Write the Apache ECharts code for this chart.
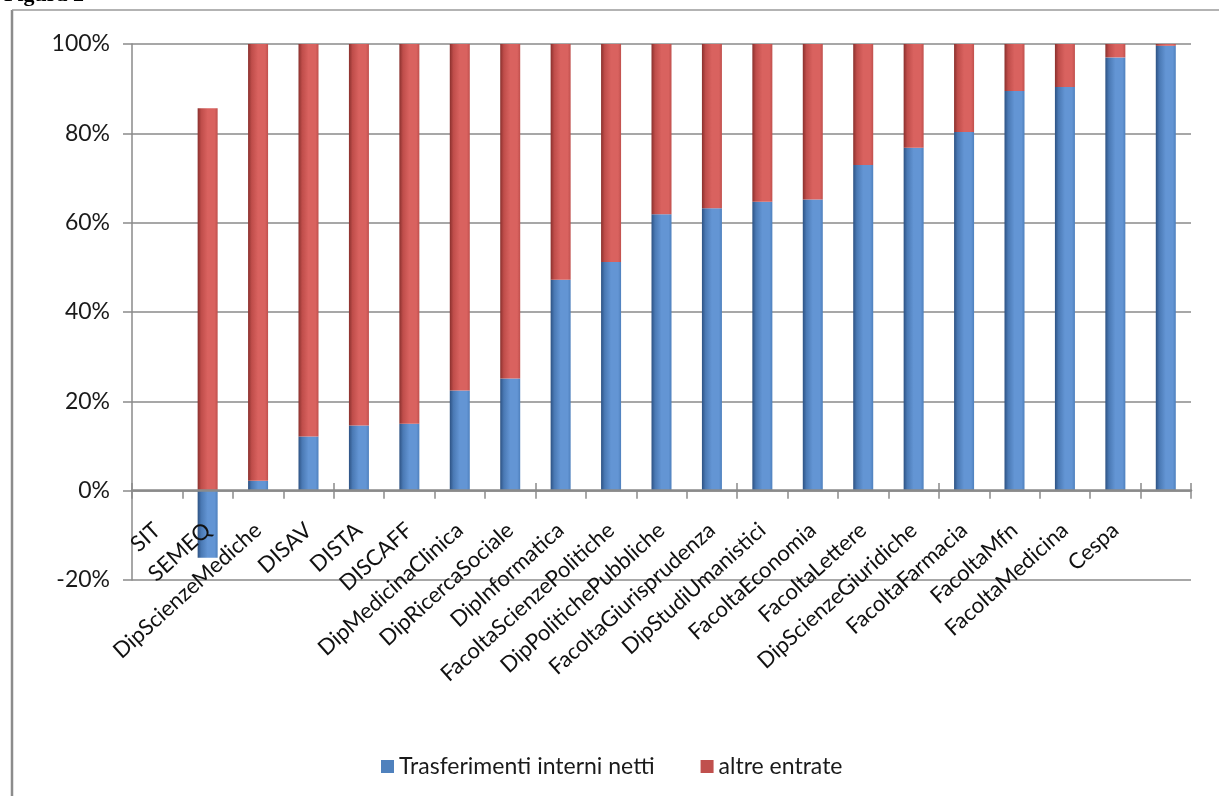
<!DOCTYPE html>
<html>
<head>
<meta charset="utf-8">
<script src="https://cdn.jsdelivr.net/npm/echarts@6/dist/echarts.min.js"></script>
<style>
html,body{margin:0;padding:0;background:#fff;}
#chart{width:1219px;height:796px;}
</style>
</head>
<body>
<div id="chart"></div>
<script>
const categories = ['SIT','SEMEQ','DipScienzeMediche','DISAV','DISTA','DISCAFF','DipMedicinaClinica','DipRicercaSociale','DipInformatica','FacoltaScienzePolitiche','DipPolitichePubbliche','FacoltaGiurisprudenza','DipStudiUmanistici','FacoltaEconomia','FacoltaLettere','DipScienzeGiuridiche','FacoltaFarmacia','FacoltaMfn','FacoltaMedicina','Cespa',''];
const trasferimentiInterniNetti = [null,-15.0,2.2,12.1,14.6,15.0,22.4,25.1,47.2,51.2,61.9,63.2,64.7,65.2,72.9,76.8,80.3,89.5,90.4,97.0,99.6];
const altreEntrate = [null,85.6,97.8,87.9,85.4,85.0,77.6,74.9,52.8,48.8,38.1,36.8,35.3,34.8,27.1,23.2,19.7,10.5,9.6,3.0,0.4];
const seriesNames = ['Trasferimenti interni netti','altre entrate'];
const yTicks = {min:-20, max:100, interval:20};

const FONT = 'Lato';
const chart = echarts.init(document.getElementById('chart'), null, {renderer:'canvas'});

function grad(dark, mid, light, edge){
  return new echarts.graphic.LinearGradient(0,0,1,0,[
    {offset:0, color:dark},
    {offset:0.18, color:mid},
    {offset:0.5, color:light},
    {offset:0.85, color:light},
    {offset:1, color:edge}
  ]);
}

const option = {
  animation:false,
  backgroundColor:'#fff',
  grid:[
    {left:132, right:28, top:44, bottom:216, containLabel:false},
    {left:132, right:28, top:44, bottom:306, containLabel:false}
  ],
  legend:{
    left:376, top:750,
    icon:'rect', itemWidth:13, itemHeight:13, itemGap:46,
    textStyle:{fontFamily:FONT, fontSize:23, color:'#1a1a1a'},
    data:[{name:seriesNames[0], itemStyle:{color:'#4f81bd'}},{name:seriesNames[1], itemStyle:{color:'#c0504d'}}]
  },
  xAxis:[{
    gridIndex:0, type:'category', data:categories, boundaryGap:true, z:5,
    axisLine:{onZero:true, lineStyle:{color:'#8a8a8a', width:2.5}},
    axisTick:{show:true, length:8, lineStyle:{color:'#8a8a8a', width:1.5}},
    axisLabel:{interval:0, rotate:42, margin:-53, fontFamily:FONT, fontSize:22, color:'#111'},
    splitLine:{show:false}
  },{
    gridIndex:1, type:'category', data:categories, boundaryGap:true,
    axisLine:{show:false},
    axisTick:{show:true, inside:true, length:7, lineStyle:{color:'#8a8a8a', width:1.5}},
    axisLabel:{show:false}
  }],
  yAxis:[{
    gridIndex:0, type:'value', min:yTicks.min, max:yTicks.max, interval:yTicks.interval,
    axisLine:{show:true, lineStyle:{color:'#8a8a8a', width:1.5}},
    axisTick:{show:true, length:9, lineStyle:{color:'#8a8a8a', width:1.5}},
    axisLabel:{formatter:v=>v+'%', margin:22, fontFamily:FONT, fontSize:23, color:'#1a1a1a'},
    splitLine:{show:true, lineStyle:{color:'#8a8a8a', width:1.5}}
  },{
    gridIndex:1, type:'value', min:0, max:1, show:false
  }],
  series:[{
    name:seriesNames[0], type:'bar', stack:'tot', barWidth:20,
    data:trasferimentiInterniNetti,
    itemStyle:{color:grad('#2d5283','#4a79b4','#6395d4','#4e80bd')}
  },{
    name:seriesNames[1], type:'bar', stack:'tot', barWidth:20,
    data:altreEntrate,
    itemStyle:{color:grad('#8a302d','#bf4d4a','#d9625f','#c0504d')}
  }],
  graphic:[
    {type:'line', shape:{x1:12, y1:10, x2:12, y2:796}, style:{stroke:'#8c8c8c', lineWidth:2.5}, silent:true},
    {type:'line', shape:{x1:12, y1:10, x2:1219, y2:10}, style:{stroke:'#9a9a9a', lineWidth:1.5}, silent:true},
    {type:'text', left:4, top:-16, style:{text:'Figura 2', font:'bold 22px "Liberation Serif"', fill:'#000'}, silent:true}
  ]
};
chart.setOption(option);
</script>
</body>
</html>
